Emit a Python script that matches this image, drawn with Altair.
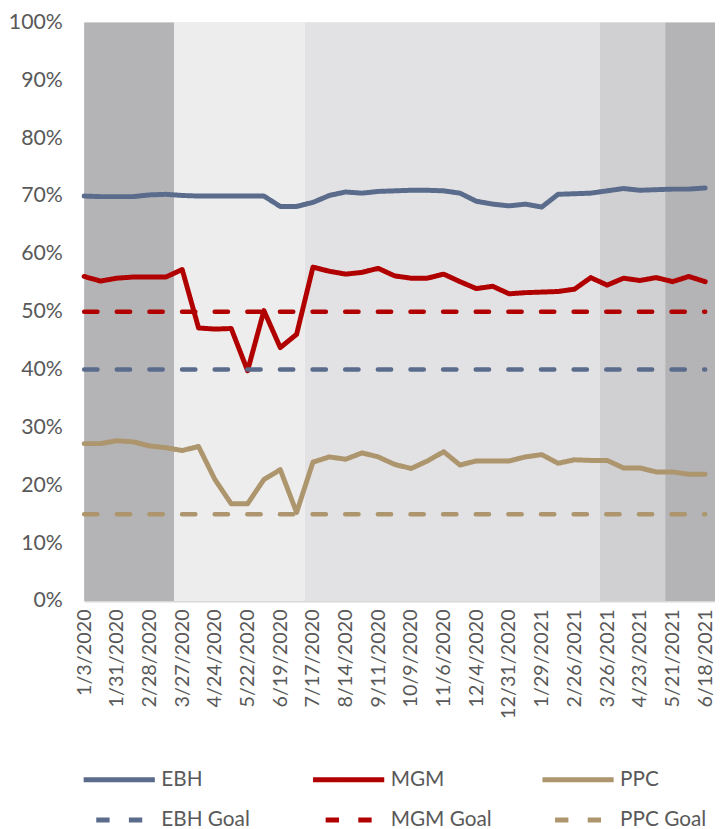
import altair as alt
import pandas as pd

# ---------------- data ----------------
dates = ["1/3/2020", "1/17/2020", "1/31/2020", "2/14/2020", "2/28/2020", "3/13/2020",
         "3/27/2020", "4/10/2020", "4/24/2020", "5/8/2020", "5/22/2020", "6/5/2020",
         "6/19/2020", "7/3/2020", "7/17/2020", "7/31/2020", "8/14/2020", "8/28/2020",
         "9/11/2020", "9/25/2020", "10/9/2020", "10/23/2020", "11/6/2020", "11/20/2020",
         "12/4/2020", "12/18/2020", "12/31/2020", "1/15/2021", "1/29/2021", "2/12/2021",
         "2/26/2021", "3/12/2021", "3/26/2021", "4/9/2021", "4/23/2021", "5/7/2021",
         "5/21/2021", "6/4/2021", "6/18/2021"]

ebh = [70.0, 69.9, 69.9, 69.9, 70.2, 70.3, 70.1, 70.0, 70.0, 70.0, 70.0, 70.0,
       68.2, 68.2, 68.9, 70.1, 70.7, 70.5, 70.8, 70.9, 71.0, 71.0, 70.9, 70.5,
       69.1, 68.6, 68.3, 68.6, 68.1, 70.3, 70.4, 70.5, 70.9, 71.3, 71.0, 71.1,
       71.2, 71.2, 71.4]

mgm = [56.1, 55.3, 55.8, 56.0, 56.0, 56.0, 57.3, 47.2, 47.0, 47.1, 39.8, 50.2,
       43.8, 46.1, 57.7, 57.0, 56.5, 56.8, 57.5, 56.2, 55.8, 55.8, 56.5, 55.2,
       54.0, 54.4, 53.1, 53.3, 53.4, 53.5, 53.9, 55.9, 54.6, 55.8, 55.4, 55.9,
       55.2, 56.1, 55.2]

ppc = [27.2, 27.2, 27.7, 27.5, 26.8, 26.5, 26.0, 26.7, 21.0, 16.8, 16.8, 21.0,
       22.7, 15.3, 24.0, 24.9, 24.5, 25.6, 24.9, 23.6, 22.9, 24.2, 25.8, 23.5,
       24.2, 24.2, 24.2, 24.9, 25.3, 23.8, 24.4, 24.3, 24.3, 23.0, 23.0, 22.3,
       22.3, 21.9, 21.9]

series_names = ["EBH", "MGM", "PPC"]
goal_names = ["EBH Goal", "MGM Goal", "PPC Goal"]
goal_values = [40, 50, 15]
series_colors = ["#5a6b8c", "#b00000", "#ad956e"]

y_ticks = list(range(0, 101, 10))

phases = ["p1", "p2", "p3", "p4", "p5"]
phase_start = [0, 5.5, 13.5, 31.55, 35.55]
phase_end = [5.5, 13.5, 31.55, 35.55, 38.6]
phase_colors = ["#b4b4b6", "#ededed", "#e2e2e4", "#d0d0d2", "#b4b4b6"]

# ---------------- tables ----------------
rows = []
for name, vals in zip(series_names, [ebh, mgm, ppc]):
    for i, d in enumerate(dates):
        rows.append({"idx": i, "date": d, "series": name, "value": vals[i]})
lines_df = pd.DataFrame(rows)

grows = []
for name, g in zip(goal_names, goal_values):
    for i in (0, len(dates) - 1):
        grows.append({"idx": i, "date": dates[i], "series": name, "value": g})
goals_df = pd.DataFrame(grows)

bands_df = pd.DataFrame({"phase": phases, "start": phase_start, "end": phase_end})

FONT = "Lato"
TXT = "#595959"
dash_solid = [1, 0]
dash_goal = [13.5, 19.5]

# legend order: column-major, 2 rows x 3 columns
legend_order = []
legend_colors = []
legend_dashes = []
for s, g, c in zip(series_names, goal_names, series_colors):
    legend_order += [s, g]
    legend_colors += [c, c]
    legend_dashes += [dash_solid, dash_goal]

x_scale = alt.Scale(domain=[0, 38.6], nice=False, zero=False)
y_scale = alt.Scale(domain=[0, 100], nice=False)

label_array = "[" + ",".join("'" + d + "'" for d in dates) + "]"

x_axis = alt.Axis(values=list(range(0, len(dates), 2)), labelExpr=label_array + "[datum.value]",
                  labelAngle=270, labelPadding=8, labelFont=FONT, labelFontSize=20,
                  labelColor=TXT, ticks=False, domain=True, domainColor="#d9d9d9",
                  domainWidth=2, grid=False, title=None, labelOverlap=False,
                  labelFlush=False, labelBound=False)
y_axis = alt.Axis(values=y_ticks, labelExpr="datum.value + '%'", labelFont=FONT,
                  labelFontSize=21.5, labelColor=TXT, labelPadding=22, ticks=False,
                  domain=False, grid=True, gridColor="#000000", gridOpacity=0.085,
                  gridWidth=1.5, title=None)

legend = alt.Legend(orient="none", legendX=23, legendY=753, columns=3, title=None,
                    symbolType="M-3.6,0H3.6", symbolSize=400, symbolStrokeWidth=5,
                    symbolDashOffset=20.25,
                    labelFont=FONT, labelFontSize=21, labelColor=TXT, labelOffset=30,
                    columnPadding=40, rowPadding=18, gridAlign="all")

color_enc = alt.Color("series:N", scale=alt.Scale(domain=legend_order, range=legend_colors),
                      legend=legend)
dash_enc = alt.StrokeDash("series:N", scale=alt.Scale(domain=legend_order, range=legend_dashes),
                          legend=legend)

bands = alt.Chart(bands_df).mark_rect().encode(
    x=alt.X("start:Q", scale=x_scale, axis=x_axis),
    x2="end:Q",
    y=alt.datum(0, scale=y_scale),
    y2=alt.datum(100),
    fill=alt.Fill("phase:N", scale=alt.Scale(domain=phases, range=phase_colors), legend=None),
)

lines = alt.Chart(lines_df).mark_line(strokeWidth=5, strokeCap="round", strokeJoin="round").encode(
    x=alt.X("idx:Q", scale=x_scale, axis=x_axis),
    y=alt.Y("value:Q", scale=y_scale, axis=y_axis),
    color=color_enc,
    strokeDash=dash_enc,
    order="idx:Q",
)

goals = alt.Chart(goals_df).mark_line(strokeWidth=4.5, strokeCap="round").encode(
    x=alt.X("idx:Q", scale=x_scale, axis=x_axis),
    y=alt.Y("value:Q", scale=y_scale, axis=y_axis),
    color=color_enc,
    strokeDash=dash_enc,
    order="idx:Q",
)

chart = alt.layer(bands, lines, goals).properties(
    width=638, height=585,
    autosize=alt.AutoSizeParams(type="none"),
    padding={"left": 77, "top": 10, "right": 0, "bottom": 232},
).configure_view(stroke=None)

chart.save("out.html", embed_options={"renderer": "svg", "actions": False})
